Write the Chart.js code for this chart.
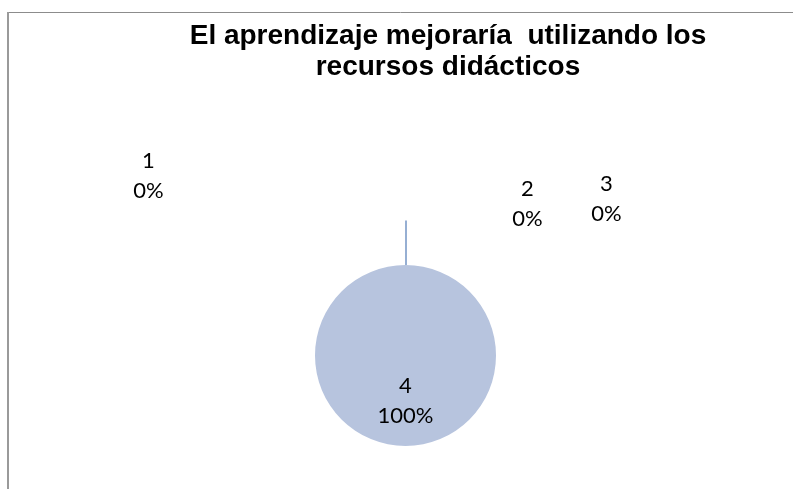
<!DOCTYPE html>
<html>
<head>
<meta charset="utf-8">
<script src="https://cdn.jsdelivr.net/npm/chart.js@4"></script>
<style>
  html, body { margin: 0; padding: 0; background: #fff; }
  #wrap { position: relative; width: 793px; height: 489px; }
  canvas { display: block; }
</style>
</head>
<body>
<div id="wrap"><canvas id="c" width="793" height="489"></canvas></div>
<script>
const CATEGORIES = ['1', '2', '3', '4'];
const VALUES = [0, 0, 0, 100];
const PERCENT_LABELS = ['0%', '0%', '0%', '100%'];
const TITLE_LINES = ['El aprendizaje mejoraría  utilizando los', 'recursos didácticos'];

const SLICE_COLOR = '#b7c4de';
// offsets (from pie centre) of labels that Excel moved away from their zero-width slices
const LABEL_OFFSETS = [[-257, -180], [122, -152], [201, -157], null];
const LEADER_TOP = -135;

const frame = {
  id: 'frame',
  beforeDraw(chart) {
    const ctx = chart.ctx;
    ctx.save();
    ctx.fillStyle = '#fff';
    ctx.fillRect(0, 0, chart.width, chart.height);
    ctx.strokeStyle = '#8c8c8c';
    ctx.lineWidth = 1;
    ctx.beginPath();
    ctx.moveTo(8, 12.5); ctx.lineTo(chart.width, 12.5);
    ctx.stroke();
    ctx.strokeStyle = '#9a9a9a';
    ctx.lineWidth = 2;
    ctx.beginPath();
    ctx.moveTo(8, 12); ctx.lineTo(8, chart.height);
    ctx.stroke();
    ctx.restore();
  }
};

const titlePlugin = {
  id: 'titleLines',
  afterDraw(chart) {
    const ctx = chart.ctx;
    ctx.save();
    ctx.font = 'bold 28px "Liberation Sans", Arial, sans-serif';
    ctx.fillStyle = '#000';
    ctx.textAlign = 'center';
    ctx.textBaseline = 'alphabetic';
    TITLE_LINES.forEach((t, i) => ctx.fillText(t, 448, 44 + i * 31));
    ctx.restore();
  }
};

const labelsPlugin = {
  id: 'sliceLabels',
  afterDatasetsDraw(chart) {
    const ctx = chart.ctx;
    const meta = chart.getDatasetMeta(0);
    const arc0 = meta.data[3];
    const cx = arc0.x, cy = arc0.y, r = arc0.outerRadius;
    ctx.save();
    // leader line
    ctx.strokeStyle = '#7394c4';
    ctx.lineWidth = 1.5;
    ctx.beginPath();
    ctx.moveTo(cx + 0.5, cy - r);
    ctx.lineTo(cx + 0.5, cy + LEADER_TOP);
    ctx.stroke();

    ctx.font = '22px Lato, "Open Sans", sans-serif';
    ctx.fillStyle = '#000';
    ctx.textAlign = 'center';
    ctx.textBaseline = 'middle';
    meta.data.forEach((arc, i) => {
      let x, y;
      if (LABEL_OFFSETS[i]) {
        x = cx + LABEL_OFFSETS[i][0];
        y = cy + LABEL_OFFSETS[i][1];
      } else {
        const p = arc.tooltipPosition();
        x = p.x; y = p.y;
      }
      ctx.fillText(CATEGORIES[i], x, y - 15);
      ctx.fillText(PERCENT_LABELS[i], x, y + 15);
    });
    ctx.restore();
  }
};

new Chart(document.getElementById('c'), {
  type: 'pie',
  data: {
    labels: CATEGORIES,
    datasets: [{
      data: VALUES,
      backgroundColor: CATEGORIES.map(() => SLICE_COLOR),
      borderWidth: 0
    }]
  },
  options: {
    responsive: false,
    animation: false,
    layout: { padding: { left: 315, right: 297, top: 265, bottom: 43 } },
    plugins: {
      legend: { display: false },
      title: { display: false },
      tooltip: { enabled: false }
    }
  },
  plugins: [frame, titlePlugin, labelsPlugin]
});
</script>
</body>
</html>
